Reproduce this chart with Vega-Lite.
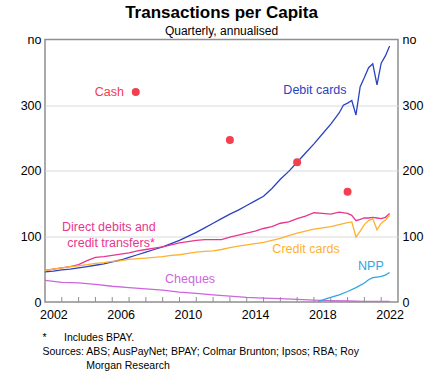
{
  "$schema": "https://vega.github.io/schema/vega-lite/v6.json",
  "width": 353,
  "height": 262.5,
  "autosize": {"type": "none"},
  "padding": {"left": 45, "top": 39.5, "right": 44, "bottom": 71},
  "config": {
    "font": "Liberation Sans",
    "view": {"stroke": "#8f8f8f", "strokeWidth": 1.5}
  },
  "title": {
    "text": "Transactions per Capita",
    "subtitle": "Quarterly, annualised",
    "fontSize": 17,
    "fontWeight": "bold",
    "subtitleFontSize": 12,
    "subtitleColor": "black",
    "color": "black",
    "anchor": "middle",
    "offset": -4,
    "subtitlePadding": 4
  },
  "datasets": {
    "series": [
      {"series": "Debit cards", "year": 2002.0, "value": 46},
      {"series": "Debit cards", "year": 2002.5, "value": 47},
      {"series": "Debit cards", "year": 2003.0, "value": 49},
      {"series": "Debit cards", "year": 2003.5, "value": 50},
      {"series": "Debit cards", "year": 2004.0, "value": 52},
      {"series": "Debit cards", "year": 2004.5, "value": 54},
      {"series": "Debit cards", "year": 2005.0, "value": 56},
      {"series": "Debit cards", "year": 2005.5, "value": 58},
      {"series": "Debit cards", "year": 2006.0, "value": 61},
      {"series": "Debit cards", "year": 2006.5, "value": 64},
      {"series": "Debit cards", "year": 2007.0, "value": 68},
      {"series": "Debit cards", "year": 2007.5, "value": 72},
      {"series": "Debit cards", "year": 2008.0, "value": 76},
      {"series": "Debit cards", "year": 2008.5, "value": 80},
      {"series": "Debit cards", "year": 2009.0, "value": 84},
      {"series": "Debit cards", "year": 2009.5, "value": 89},
      {"series": "Debit cards", "year": 2010.0, "value": 94},
      {"series": "Debit cards", "year": 2010.5, "value": 100},
      {"series": "Debit cards", "year": 2011.0, "value": 106},
      {"series": "Debit cards", "year": 2011.5, "value": 113},
      {"series": "Debit cards", "year": 2012.0, "value": 120},
      {"series": "Debit cards", "year": 2012.5, "value": 127},
      {"series": "Debit cards", "year": 2013.0, "value": 134},
      {"series": "Debit cards", "year": 2013.5, "value": 140},
      {"series": "Debit cards", "year": 2014.0, "value": 147},
      {"series": "Debit cards", "year": 2014.5, "value": 154},
      {"series": "Debit cards", "year": 2015.0, "value": 161},
      {"series": "Debit cards", "year": 2015.5, "value": 173},
      {"series": "Debit cards", "year": 2016.0, "value": 187},
      {"series": "Debit cards", "year": 2016.5, "value": 199},
      {"series": "Debit cards", "year": 2017.0, "value": 213},
      {"series": "Debit cards", "year": 2017.5, "value": 227},
      {"series": "Debit cards", "year": 2018.0, "value": 241},
      {"series": "Debit cards", "year": 2018.5, "value": 256},
      {"series": "Debit cards", "year": 2019.0, "value": 271},
      {"series": "Debit cards", "year": 2019.5, "value": 288},
      {"series": "Debit cards", "year": 2019.75, "value": 300},
      {"series": "Debit cards", "year": 2020.0, "value": 303},
      {"series": "Debit cards", "year": 2020.25, "value": 307},
      {"series": "Debit cards", "year": 2020.5, "value": 285},
      {"series": "Debit cards", "year": 2020.75, "value": 328},
      {"series": "Debit cards", "year": 2021.0, "value": 342},
      {"series": "Debit cards", "year": 2021.25, "value": 357},
      {"series": "Debit cards", "year": 2021.5, "value": 363},
      {"series": "Debit cards", "year": 2021.75, "value": 331},
      {"series": "Debit cards", "year": 2022.0, "value": 364},
      {"series": "Debit cards", "year": 2022.25, "value": 375},
      {"series": "Debit cards", "year": 2022.5, "value": 390},

      {"series": "Direct debits", "year": 2002.0, "value": 48},
      {"series": "Direct debits", "year": 2002.5, "value": 50},
      {"series": "Direct debits", "year": 2003.0, "value": 52},
      {"series": "Direct debits", "year": 2003.5, "value": 54},
      {"series": "Direct debits", "year": 2004.0, "value": 57},
      {"series": "Direct debits", "year": 2004.5, "value": 63},
      {"series": "Direct debits", "year": 2005.0, "value": 68},
      {"series": "Direct debits", "year": 2005.5, "value": 69},
      {"series": "Direct debits", "year": 2006.0, "value": 71},
      {"series": "Direct debits", "year": 2006.5, "value": 73},
      {"series": "Direct debits", "year": 2007.0, "value": 75},
      {"series": "Direct debits", "year": 2007.5, "value": 78},
      {"series": "Direct debits", "year": 2008.0, "value": 80},
      {"series": "Direct debits", "year": 2008.5, "value": 82},
      {"series": "Direct debits", "year": 2009.0, "value": 84},
      {"series": "Direct debits", "year": 2009.5, "value": 87},
      {"series": "Direct debits", "year": 2010.0, "value": 90},
      {"series": "Direct debits", "year": 2010.5, "value": 92},
      {"series": "Direct debits", "year": 2011.0, "value": 94},
      {"series": "Direct debits", "year": 2011.5, "value": 95},
      {"series": "Direct debits", "year": 2012.0, "value": 95},
      {"series": "Direct debits", "year": 2012.5, "value": 95},
      {"series": "Direct debits", "year": 2013.0, "value": 99},
      {"series": "Direct debits", "year": 2013.5, "value": 102},
      {"series": "Direct debits", "year": 2014.0, "value": 105},
      {"series": "Direct debits", "year": 2014.5, "value": 108},
      {"series": "Direct debits", "year": 2015.0, "value": 112},
      {"series": "Direct debits", "year": 2015.5, "value": 115},
      {"series": "Direct debits", "year": 2016.0, "value": 120},
      {"series": "Direct debits", "year": 2016.5, "value": 122},
      {"series": "Direct debits", "year": 2017.0, "value": 127},
      {"series": "Direct debits", "year": 2017.5, "value": 131},
      {"series": "Direct debits", "year": 2018.0, "value": 136},
      {"series": "Direct debits", "year": 2018.5, "value": 135},
      {"series": "Direct debits", "year": 2019.0, "value": 134},
      {"series": "Direct debits", "year": 2019.5, "value": 137},
      {"series": "Direct debits", "year": 2020.0, "value": 135},
      {"series": "Direct debits", "year": 2020.25, "value": 132},
      {"series": "Direct debits", "year": 2020.5, "value": 124},
      {"series": "Direct debits", "year": 2020.75, "value": 126},
      {"series": "Direct debits", "year": 2021.0, "value": 128},
      {"series": "Direct debits", "year": 2021.25, "value": 128},
      {"series": "Direct debits", "year": 2021.5, "value": 129},
      {"series": "Direct debits", "year": 2021.75, "value": 128},
      {"series": "Direct debits", "year": 2022.0, "value": 127},
      {"series": "Direct debits", "year": 2022.25, "value": 129},
      {"series": "Direct debits", "year": 2022.5, "value": 135},

      {"series": "Credit cards", "year": 2002.0, "value": 48},
      {"series": "Credit cards", "year": 2002.5, "value": 50},
      {"series": "Credit cards", "year": 2003.0, "value": 52},
      {"series": "Credit cards", "year": 2003.5, "value": 54},
      {"series": "Credit cards", "year": 2004.0, "value": 55},
      {"series": "Credit cards", "year": 2004.5, "value": 57},
      {"series": "Credit cards", "year": 2005.0, "value": 59},
      {"series": "Credit cards", "year": 2005.5, "value": 60},
      {"series": "Credit cards", "year": 2006.0, "value": 62},
      {"series": "Credit cards", "year": 2006.5, "value": 63},
      {"series": "Credit cards", "year": 2007.0, "value": 65},
      {"series": "Credit cards", "year": 2007.5, "value": 66},
      {"series": "Credit cards", "year": 2008.0, "value": 67},
      {"series": "Credit cards", "year": 2008.5, "value": 68},
      {"series": "Credit cards", "year": 2009.0, "value": 69},
      {"series": "Credit cards", "year": 2009.5, "value": 71},
      {"series": "Credit cards", "year": 2010.0, "value": 72},
      {"series": "Credit cards", "year": 2010.5, "value": 74},
      {"series": "Credit cards", "year": 2011.0, "value": 76},
      {"series": "Credit cards", "year": 2011.5, "value": 77},
      {"series": "Credit cards", "year": 2012.0, "value": 78},
      {"series": "Credit cards", "year": 2012.5, "value": 80},
      {"series": "Credit cards", "year": 2013.0, "value": 83},
      {"series": "Credit cards", "year": 2013.5, "value": 85},
      {"series": "Credit cards", "year": 2014.0, "value": 87},
      {"series": "Credit cards", "year": 2014.5, "value": 89},
      {"series": "Credit cards", "year": 2015.0, "value": 91},
      {"series": "Credit cards", "year": 2015.5, "value": 94},
      {"series": "Credit cards", "year": 2016.0, "value": 97},
      {"series": "Credit cards", "year": 2016.5, "value": 101},
      {"series": "Credit cards", "year": 2017.0, "value": 105},
      {"series": "Credit cards", "year": 2017.5, "value": 108},
      {"series": "Credit cards", "year": 2018.0, "value": 111},
      {"series": "Credit cards", "year": 2018.5, "value": 113},
      {"series": "Credit cards", "year": 2019.0, "value": 115},
      {"series": "Credit cards", "year": 2019.5, "value": 118},
      {"series": "Credit cards", "year": 2020.0, "value": 121},
      {"series": "Credit cards", "year": 2020.25, "value": 122},
      {"series": "Credit cards", "year": 2020.5, "value": 99},
      {"series": "Credit cards", "year": 2020.75, "value": 108},
      {"series": "Credit cards", "year": 2021.0, "value": 118},
      {"series": "Credit cards", "year": 2021.25, "value": 124},
      {"series": "Credit cards", "year": 2021.5, "value": 127},
      {"series": "Credit cards", "year": 2021.75, "value": 110},
      {"series": "Credit cards", "year": 2022.0, "value": 120},
      {"series": "Credit cards", "year": 2022.25, "value": 125},
      {"series": "Credit cards", "year": 2022.5, "value": 132},

      {"series": "Cheques", "year": 2002.0, "value": 33},
      {"series": "Cheques", "year": 2003.0, "value": 30},
      {"series": "Cheques", "year": 2004.0, "value": 29},
      {"series": "Cheques", "year": 2005.0, "value": 27},
      {"series": "Cheques", "year": 2006.0, "value": 24},
      {"series": "Cheques", "year": 2007.0, "value": 22},
      {"series": "Cheques", "year": 2008.0, "value": 20},
      {"series": "Cheques", "year": 2009.0, "value": 18},
      {"series": "Cheques", "year": 2010.0, "value": 15},
      {"series": "Cheques", "year": 2011.0, "value": 13},
      {"series": "Cheques", "year": 2012.0, "value": 11},
      {"series": "Cheques", "year": 2013.0, "value": 9},
      {"series": "Cheques", "year": 2014.0, "value": 7},
      {"series": "Cheques", "year": 2015.0, "value": 6},
      {"series": "Cheques", "year": 2016.0, "value": 5},
      {"series": "Cheques", "year": 2017.0, "value": 4},
      {"series": "Cheques", "year": 2018.0, "value": 3},
      {"series": "Cheques", "year": 2019.0, "value": 2},
      {"series": "Cheques", "year": 2020.0, "value": 1.5},
      {"series": "Cheques", "year": 2021.0, "value": 1},
      {"series": "Cheques", "year": 2022.5, "value": 1},

      {"series": "NPP", "year": 2018.25, "value": 0.5},
      {"series": "NPP", "year": 2018.5, "value": 3},
      {"series": "NPP", "year": 2018.75, "value": 5},
      {"series": "NPP", "year": 2019.0, "value": 7},
      {"series": "NPP", "year": 2019.5, "value": 11},
      {"series": "NPP", "year": 2020.0, "value": 16},
      {"series": "NPP", "year": 2020.5, "value": 22},
      {"series": "NPP", "year": 2021.0, "value": 29},
      {"series": "NPP", "year": 2021.25, "value": 34},
      {"series": "NPP", "year": 2021.5, "value": 37},
      {"series": "NPP", "year": 2021.75, "value": 38},
      {"series": "NPP", "year": 2022.0, "value": 39},
      {"series": "NPP", "year": 2022.25, "value": 41},
      {"series": "NPP", "year": 2022.5, "value": 45}
    ],
    "cash": [
      {"series": "Cash", "year": 2007.4, "value": 320},
      {"series": "Cash", "year": 2013.0, "value": 247},
      {"series": "Cash", "year": 2017.0, "value": 213},
      {"series": "Cash", "year": 2020.0, "value": 168}
    ],
    "labels": [
      {"series": "Cash", "label": "Cash", "year": 2005.83, "value": 320},
      {"series": "Debit cards", "label": "Debit cards", "year": 2018.06, "value": 323},
      {"series": "Direct debits", "label": "Direct debits and", "year": 2005.8, "value": 115},
      {"series": "Direct debits", "label": "credit transfers*", "year": 2005.93, "value": 89.5},
      {"series": "Credit cards", "label": "Credit cards", "year": 2017.53, "value": 81},
      {"series": "NPP", "label": "NPP", "year": 2021.39, "value": 55},
      {"series": "Cheques", "label": "Cheques", "year": 2010.63, "value": 34.6}
    ],
    "ticks": [
      {"year": 2003}, {"year": 2004}, {"year": 2005}, {"year": 2006}, {"year": 2007},
      {"year": 2008}, {"year": 2009}, {"year": 2010}, {"year": 2011}, {"year": 2012},
      {"year": 2013}, {"year": 2014}, {"year": 2015}, {"year": 2016}, {"year": 2017},
      {"year": 2018}, {"year": 2019}, {"year": 2020}, {"year": 2021}, {"year": 2022}
    ]
  },
  "layer": [
    {
      "data": {"name": "series"},
      "mark": {"type": "line", "strokeWidth": 1.3, "clip": true},
      "encoding": {
        "x": {
          "field": "year", "type": "quantitative",
          "scale": {"domain": [2002, 2023], "nice": false, "zero": false},
          "axis": {
            "orient": "bottom",
            "values": [2002, 2003, 2004, 2005, 2006, 2007, 2008, 2009, 2010, 2011, 2012, 2013, 2014, 2015, 2016, 2017, 2018, 2019, 2020, 2021, 2022],
            "labelExpr": "(datum.value - 2002) % 4 == 0 ? '' + datum.value : ''",
            "labelOffset": 8.4,
            "labelFlush": false,
            "labelOverlap": false,
            "labelFontSize": 12.5,
            "labelColor": "black",
            "labelPadding": 6,
            "ticks": false,
            "domain": false,
            "grid": false,
            "title": ["*\u00a0\u00a0\u00a0\u00a0\u00a0\u00a0Includes BPAY.", "Sources: ABS; AusPayNet; BPAY; Colmar Brunton; Ipsos; RBA; Roy", "\u200b\u00a0\u00a0\u00a0\u00a0\u00a0\u00a0\u00a0\u00a0\u00a0\u00a0\u00a0\u00a0\u00a0\u00a0\u00a0Morgan Research"],
            "titleFontSize": 10.5,
            "titleFontWeight": "normal",
            "titleColor": "black",
            "titleAnchor": "start",
            "titleAlign": "left",
            "titleBaseline": "alphabetic",
            "titleX": -3,
            "titleY": 38.75,
            "titleLineHeight": 13.8
          }
        },
        "y": {
          "field": "value", "type": "quantitative",
          "scale": {"domain": [0, 400], "nice": false},
          "axis": {
            "orient": "left",
            "values": [0, 100, 200, 300, 400],
            "labelExpr": "datum.value == 400 ? 'no' : datum.label",
            "ticks": false,
            "domain": false,
            "grid": true,
            "gridColor": "#d9d9d9",
            "gridWidth": 1,
            "gridOpacity": {"condition": {"test": "datum.value == 0 || datum.value == 400", "value": 0}, "value": 1},
            "labelFontSize": 12.5,
            "labelColor": "black",
            "labelPadding": 4,
            "title": null
          }
        },
        "color": {
          "field": "series", "type": "nominal",
          "scale": {
            "domain": ["Cheques", "NPP", "Credit cards", "Direct debits", "Debit cards", "Cash"],
            "range": ["#cc66dd", "#30a6e0", "#ffb02e", "#e8368f", "#2a43c1", "#f2404f"]
          },
          "legend": null
        }
      }
    },
    {
      "data": {"name": "ticks"},
      "mark": {"type": "rule", "color": "#8f8f8f", "strokeWidth": 1},
      "encoding": {
        "x": {"field": "year", "type": "quantitative"},
        "y": {"datum": 0, "type": "quantitative", "axis": null},
        "y2": {"datum": 7.6}
      }
    },
    {
      "data": {"name": "cash"},
      "mark": {"type": "circle", "size": 64, "opacity": 1},
      "encoding": {
        "x": {"field": "year", "type": "quantitative"},
        "y": {
          "field": "value", "type": "quantitative",
          "axis": {
            "orient": "right",
            "values": [0, 100, 200, 300, 400],
            "labelExpr": "datum.value == 400 ? 'no' : datum.label",
            "ticks": false,
            "domain": false,
            "grid": false,
            "labelFontSize": 12.5,
            "labelColor": "black",
            "labelPadding": 4,
            "title": null
          }
        },
        "color": {"field": "series", "type": "nominal", "legend": null}
      }
    },
    {
      "data": {"name": "labels"},
      "mark": {"type": "text", "fontSize": 12.5, "baseline": "middle", "align": "center"},
      "encoding": {
        "x": {"field": "year", "type": "quantitative"},
        "y": {"field": "value", "type": "quantitative", "axis": null},
        "text": {"field": "label", "type": "nominal"},
        "color": {"field": "series", "type": "nominal", "legend": null}
      }
    }
  ],
  "resolve": {"axis": {"y": "independent"}}
}
